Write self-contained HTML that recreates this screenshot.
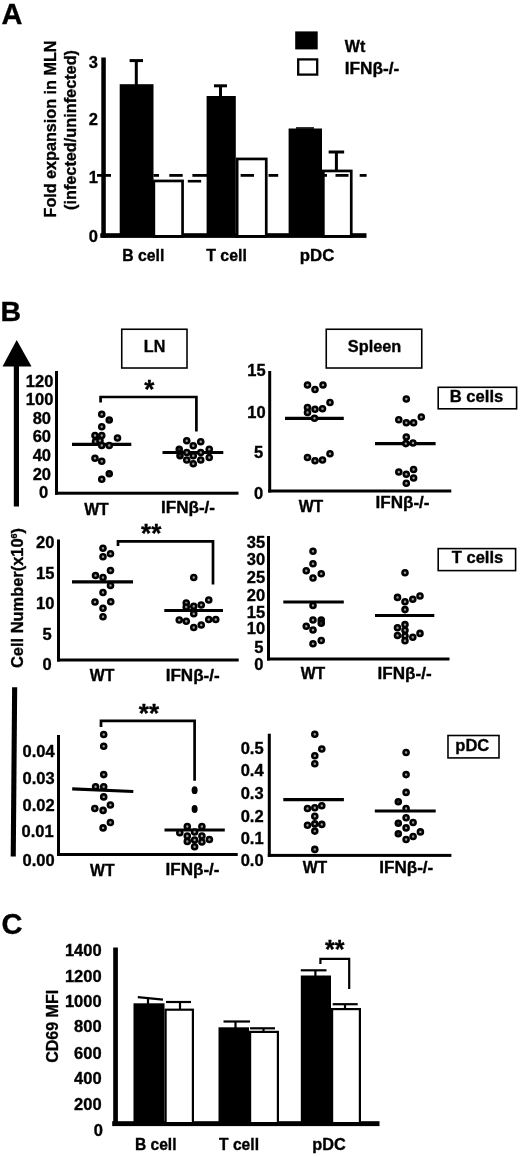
<!DOCTYPE html>
<html lang="en">
<head>
<meta charset="utf-8">
<title>Figure</title>
<style>
html,body{margin:0;padding:0;background:#fff;}
body{width:520px;height:1157px;overflow:hidden;font-family:"Liberation Sans",sans-serif;}
svg{display:block;}
svg text{font-family:"Liberation Sans",sans-serif;fill:#050505;stroke:#050505;stroke-width:0.35px;}
</style>
</head>
<body>
<svg width="520" height="1157" viewBox="0 0 520 1157">
<defs><filter id="soft" x="0" y="0" width="520" height="1157" filterUnits="userSpaceOnUse"><feGaussianBlur stdDeviation="0.35"/></filter></defs>
<rect x="0" y="0" width="520" height="1157" fill="#ffffff"/>
<g filter="url(#soft)">
<text x="1.6" y="24" font-size="29" text-anchor="start" font-weight="bold">A</text>
<text x="55.5" y="129" font-size="16" text-anchor="middle" font-weight="bold" textLength="177" lengthAdjust="spacingAndGlyphs" transform="rotate(-90 55.5 129)">Fold expansion in MLN</text>
<text x="75.8" y="130" font-size="16" text-anchor="middle" font-weight="bold" textLength="160" lengthAdjust="spacingAndGlyphs" transform="rotate(-90 75.8 130)">(infected/uninfected)</text>
<rect x="101.3" y="57.5" width="4.5" height="180" fill="#050505"/>
<rect x="100.3" y="233.2" width="266.2" height="4.7" fill="#050505"/>
<text x="97.9" y="67.8" font-size="16.5" text-anchor="end" font-weight="bold">3</text>
<text x="97.9" y="125.3" font-size="16.5" text-anchor="end" font-weight="bold">2</text>
<text x="97.9" y="183.3" font-size="16.5" text-anchor="end" font-weight="bold">1</text>
<text x="97.9" y="242.4" font-size="16.5" text-anchor="end" font-weight="bold">0</text>
<rect x="119.7" y="84.2" width="33.8" height="150.8" fill="#050505"/>
<line x1="136.3" y1="60.6" x2="136.3" y2="86" stroke="#050505" stroke-width="3.0" stroke-linecap="butt" />
<line x1="129.60000000000002" y1="60.6" x2="143.0" y2="60.6" stroke="#050505" stroke-width="3.0" stroke-linecap="butt" />
<rect x="153.85" y="180.95" width="28.700000000000006" height="55.400000000000006" fill="#fff" stroke="#050505" stroke-width="2.7"/>
<rect x="206.6" y="96" width="29.200000000000017" height="139" fill="#050505"/>
<line x1="220.5" y1="85.8" x2="220.5" y2="97" stroke="#050505" stroke-width="3.0" stroke-linecap="butt" />
<line x1="214.0" y1="85.8" x2="227.0" y2="85.8" stroke="#050505" stroke-width="3.0" stroke-linecap="butt" />
<rect x="237.15" y="158.95" width="29.100000000000012" height="77.4" fill="#fff" stroke="#050505" stroke-width="2.7"/>
<rect x="288.6" y="128.5" width="33.39999999999998" height="106.5" fill="#050505"/>
<line x1="296" y1="128" x2="314" y2="128" stroke="#050505" stroke-width="1.6" stroke-linecap="butt" />
<rect x="323.35" y="170.95" width="27.900000000000023" height="65.4" fill="#fff" stroke="#050505" stroke-width="2.7"/>
<line x1="336.4" y1="152" x2="336.4" y2="171" stroke="#050505" stroke-width="3.0" stroke-linecap="butt" />
<line x1="328.65" y1="152" x2="344.15" y2="152" stroke="#050505" stroke-width="3.0" stroke-linecap="butt" />
<line x1="97" y1="175.4" x2="111" y2="175.4" stroke="#050505" stroke-width="2.8" stroke-linecap="butt" />
<line x1="153.5" y1="175.4" x2="159" y2="175.4" stroke="#050505" stroke-width="2.8" stroke-linecap="butt" />
<line x1="169.3" y1="175.4" x2="182.7" y2="175.4" stroke="#050505" stroke-width="2.8" stroke-linecap="butt" />
<line x1="192.4" y1="175.4" x2="207" y2="175.4" stroke="#050505" stroke-width="2.8" stroke-linecap="butt" />
<line x1="240.6" y1="175.4" x2="254" y2="175.4" stroke="#050505" stroke-width="2.8" stroke-linecap="butt" />
<line x1="268.5" y1="175.4" x2="278.2" y2="175.4" stroke="#050505" stroke-width="2.8" stroke-linecap="butt" />
<line x1="321.4" y1="175.4" x2="327" y2="175.4" stroke="#050505" stroke-width="2.8" stroke-linecap="butt" />
<line x1="335.5" y1="175.4" x2="348.5" y2="175.4" stroke="#050505" stroke-width="2.8" stroke-linecap="butt" />
<line x1="359.7" y1="175.4" x2="366.6" y2="175.4" stroke="#050505" stroke-width="2.8" stroke-linecap="butt" />
<line x1="187.8" y1="181.2" x2="201.2" y2="181.2" stroke="#050505" stroke-width="2.6" stroke-linecap="butt" />
<text x="122.3" y="260.6" font-size="16" text-anchor="start" font-weight="bold" textLength="42" lengthAdjust="spacingAndGlyphs">B cell</text>
<text x="206.3" y="260.6" font-size="16" text-anchor="start" font-weight="bold" textLength="40.5" lengthAdjust="spacingAndGlyphs">T cell</text>
<text x="299.8" y="260.6" font-size="16" text-anchor="start" font-weight="bold" textLength="34.5" lengthAdjust="spacingAndGlyphs">pDC</text>
<rect x="295.2" y="31.4" width="22.5" height="18" fill="#050505"/>
<rect x="298.2" y="59.4" width="19" height="15.2" fill="#fff" stroke="#050505" stroke-width="2.3"/>
<text x="344.8" y="52" font-size="16" text-anchor="start" font-weight="bold" textLength="20.5" lengthAdjust="spacingAndGlyphs">Wt</text>
<text x="344.8" y="74" font-size="16" text-anchor="start" font-weight="bold" textLength="54.5" lengthAdjust="spacingAndGlyphs">IFN&#946;-/-</text>
<text x="0.6" y="321" font-size="28.5" text-anchor="start" font-weight="bold">B</text>
<polygon points="16.7,340 2.5,366.5 31.5,366.5" fill="#050505"/>
<rect x="13.8" y="360" width="5.2" height="146.5" fill="#050505"/>
<polygon points="12.1,687.2 17.2,687.2 15.8,856.4 10.7,856.4" fill="#050505"/>
<text x="23.1" y="668" font-size="16.5" font-weight="bold" transform="rotate(-90 23.1 668)" textLength="140" lengthAdjust="spacingAndGlyphs">Cell Number(x10<tspan font-size="9" dy="-6">6</tspan><tspan dy="6">)</tspan></text>
<rect x="121.75" y="329.25" width="65.25" height="38.75" fill="#fff" stroke="#050505" stroke-width="1.6"/>
<text x="154.6" y="352" font-size="16.5" text-anchor="middle" font-weight="bold" textLength="21.5" lengthAdjust="spacingAndGlyphs">LN</text>
<rect x="326.25" y="329.25" width="95.5" height="38.75" fill="#fff" stroke="#050505" stroke-width="1.6"/>
<text x="374.6" y="352" font-size="17" text-anchor="middle" font-weight="bold" textLength="53.5" lengthAdjust="spacingAndGlyphs">Spleen</text>
<rect x="438.2" y="387.3" width="78.4" height="21.5" fill="#fff" stroke="#050505" stroke-width="1.6"/>
<text x="476.5" y="401.6" font-size="16.5" text-anchor="middle" font-weight="bold" textLength="53.5" lengthAdjust="spacingAndGlyphs">B cells</text>
<rect x="438.2" y="548.6" width="77.4" height="22" fill="#fff" stroke="#050505" stroke-width="1.6"/>
<text x="477.5" y="562.8" font-size="16.5" text-anchor="middle" font-weight="bold" textLength="51.5" lengthAdjust="spacingAndGlyphs">T cells</text>
<rect x="448" y="735.5" width="51" height="22.4" fill="#fff" stroke="#050505" stroke-width="1.6"/>
<text x="472.3" y="750.6" font-size="16.5" text-anchor="middle" font-weight="bold" textLength="34" lengthAdjust="spacingAndGlyphs">pDC</text>
<rect x="55.0" y="371" width="3.0" height="123.69999999999999" fill="#050505"/>
<rect x="55.0" y="491.7" width="183.5" height="3.0" fill="#050505"/>
<text x="53.4" y="386.707" font-size="16.5" text-anchor="end" font-weight="bold">120</text>
<text x="53.4" y="405.30699999999996" font-size="16.5" text-anchor="end" font-weight="bold">100</text>
<text x="51" y="423.907" font-size="16.5" text-anchor="end" font-weight="bold">80</text>
<text x="51" y="442.207" font-size="16.5" text-anchor="end" font-weight="bold">60</text>
<text x="51" y="460.907" font-size="16.5" text-anchor="end" font-weight="bold">40</text>
<text x="51" y="479.60699999999997" font-size="16.5" text-anchor="end" font-weight="bold">20</text>
<text x="48.3" y="498.10699999999997" font-size="16.5" text-anchor="end" font-weight="bold">0</text>
<text x="96.5" y="514.6" font-size="16" text-anchor="middle" font-weight="bold" textLength="24.5" lengthAdjust="spacingAndGlyphs">WT</text>
<text x="188" y="512.8" font-size="16" text-anchor="middle" font-weight="bold" textLength="54" lengthAdjust="spacingAndGlyphs">IFN&#946;-/-</text>
<polyline points="100.6,402.5 100.6,397 196.4,397 196.4,431.5" fill="none" stroke="#050505" stroke-width="2.7" stroke-linejoin="miter"/>
<text x="149.3" y="397.94" font-size="26" text-anchor="middle" font-weight="bold">*</text>
<line x1="72" y1="444.3" x2="131.3" y2="444.3" stroke="#050505" stroke-width="3.2" stroke-linecap="butt" />
<circle cx="101.75" cy="414.25" r="2.5" fill="#989898" stroke="#050505" stroke-width="2.6"/>
<circle cx="109.25" cy="420" r="2.5" fill="#2a2a2a" stroke="#050505" stroke-width="2.6"/>
<circle cx="101.75" cy="426.75" r="2.5" fill="#989898" stroke="#050505" stroke-width="2.6"/>
<circle cx="95" cy="435.5" r="2.5" fill="#989898" stroke="#050505" stroke-width="2.6"/>
<circle cx="101.75" cy="435.5" r="2.5" fill="#989898" stroke="#050505" stroke-width="2.6"/>
<circle cx="117.5" cy="438" r="2.5" fill="#989898" stroke="#050505" stroke-width="2.6"/>
<circle cx="95.5" cy="441.5" r="2.5" fill="#989898" stroke="#050505" stroke-width="2.6"/>
<circle cx="100" cy="440.6" r="2.5" fill="#989898" stroke="#050505" stroke-width="2.6"/>
<circle cx="101.75" cy="445.5" r="2.5" fill="#989898" stroke="#050505" stroke-width="2.6"/>
<circle cx="109.25" cy="445.5" r="2.5" fill="#989898" stroke="#050505" stroke-width="2.6"/>
<circle cx="95" cy="458.25" r="2.5" fill="#989898" stroke="#050505" stroke-width="2.6"/>
<circle cx="101.75" cy="461.25" r="2.5" fill="#989898" stroke="#050505" stroke-width="2.6"/>
<circle cx="109.25" cy="473.75" r="2.5" fill="#2a2a2a" stroke="#050505" stroke-width="2.6"/>
<circle cx="101.75" cy="479.25" r="2.5" fill="#989898" stroke="#050505" stroke-width="2.6"/>
<line x1="162.5" y1="452.5" x2="223.3" y2="452.5" stroke="#050505" stroke-width="3.2" stroke-linecap="butt" />
<circle cx="186.75" cy="440.75" r="2.5" fill="#989898" stroke="#050505" stroke-width="2.6"/>
<circle cx="200.75" cy="441.75" r="2.5" fill="#989898" stroke="#050505" stroke-width="2.6"/>
<circle cx="193.25" cy="445.75" r="2.5" fill="#989898" stroke="#050505" stroke-width="2.6"/>
<circle cx="179.25" cy="449.25" r="2.5" fill="#2a2a2a" stroke="#050505" stroke-width="2.6"/>
<circle cx="209.25" cy="449.25" r="2.5" fill="#989898" stroke="#050505" stroke-width="2.6"/>
<circle cx="186.75" cy="452.5" r="2.5" fill="#989898" stroke="#050505" stroke-width="2.6"/>
<circle cx="200.75" cy="452.5" r="2.5" fill="#989898" stroke="#050505" stroke-width="2.6"/>
<circle cx="180" cy="455.75" r="2.5" fill="#2a2a2a" stroke="#050505" stroke-width="2.6"/>
<circle cx="193.25" cy="455.75" r="2.5" fill="#989898" stroke="#050505" stroke-width="2.6"/>
<circle cx="209.25" cy="457.5" r="2.5" fill="#989898" stroke="#050505" stroke-width="2.6"/>
<circle cx="186.75" cy="460" r="2.5" fill="#989898" stroke="#050505" stroke-width="2.6"/>
<circle cx="200.75" cy="460" r="2.5" fill="#989898" stroke="#050505" stroke-width="2.6"/>
<circle cx="193.25" cy="463.75" r="2.5" fill="#989898" stroke="#050505" stroke-width="2.6"/>
<rect x="268.2" y="371" width="3.0" height="121.5" fill="#050505"/>
<rect x="268.2" y="489.5" width="183.10000000000002" height="3.0" fill="#050505"/>
<text x="265.6" y="375.907" font-size="16.5" text-anchor="end" font-weight="bold">15</text>
<text x="265.6" y="417.707" font-size="16.5" text-anchor="end" font-weight="bold">10</text>
<text x="263.2" y="458.407" font-size="16.5" text-anchor="end" font-weight="bold">5</text>
<text x="263.2" y="498.907" font-size="16.5" text-anchor="end" font-weight="bold">0</text>
<text x="311" y="512" font-size="16" text-anchor="middle" font-weight="bold" textLength="24.5" lengthAdjust="spacingAndGlyphs">WT</text>
<text x="402.5" y="507.6" font-size="16" text-anchor="middle" font-weight="bold" textLength="54" lengthAdjust="spacingAndGlyphs">IFN&#946;-/-</text>
<line x1="285" y1="418.3" x2="343.8" y2="418.3" stroke="#050505" stroke-width="3.2" stroke-linecap="butt" />
<circle cx="307.5" cy="385" r="2.5" fill="#989898" stroke="#050505" stroke-width="2.6"/>
<circle cx="315" cy="389.5" r="2.5" fill="#989898" stroke="#050505" stroke-width="2.6"/>
<circle cx="323" cy="385" r="2.5" fill="#989898" stroke="#050505" stroke-width="2.6"/>
<circle cx="330" cy="402.5" r="2.5" fill="#989898" stroke="#050505" stroke-width="2.6"/>
<circle cx="307.5" cy="407.5" r="2.5" fill="#989898" stroke="#050505" stroke-width="2.6"/>
<circle cx="315" cy="409.25" r="2.5" fill="#989898" stroke="#050505" stroke-width="2.6"/>
<circle cx="322.5" cy="408.75" r="2.5" fill="#989898" stroke="#050505" stroke-width="2.6"/>
<circle cx="307.5" cy="412.5" r="2.5" fill="#989898" stroke="#050505" stroke-width="2.6"/>
<circle cx="314.5" cy="418.25" r="2.5" fill="#989898" stroke="#050505" stroke-width="2.6"/>
<circle cx="307.5" cy="457.5" r="2.5" fill="#989898" stroke="#050505" stroke-width="2.6"/>
<circle cx="315" cy="460.75" r="2.5" fill="#989898" stroke="#050505" stroke-width="2.6"/>
<circle cx="322.5" cy="460" r="2.5" fill="#989898" stroke="#050505" stroke-width="2.6"/>
<circle cx="330" cy="453.75" r="2.5" fill="#989898" stroke="#050505" stroke-width="2.6"/>
<line x1="375" y1="443.6" x2="435.6" y2="443.6" stroke="#050505" stroke-width="3.2" stroke-linecap="butt" />
<circle cx="406.3" cy="399" r="2.5" fill="#989898" stroke="#050505" stroke-width="2.6"/>
<circle cx="398.8" cy="419.7" r="2.5" fill="#989898" stroke="#050505" stroke-width="2.6"/>
<circle cx="406.3" cy="422.8" r="2.5" fill="#989898" stroke="#050505" stroke-width="2.6"/>
<circle cx="413.6" cy="422.8" r="2.5" fill="#989898" stroke="#050505" stroke-width="2.6"/>
<circle cx="421.3" cy="417" r="2.5" fill="#989898" stroke="#050505" stroke-width="2.6"/>
<circle cx="406.3" cy="437" r="2.5" fill="#989898" stroke="#050505" stroke-width="2.6"/>
<circle cx="405.8" cy="443.6" r="2.5" fill="#989898" stroke="#050505" stroke-width="2.6"/>
<circle cx="413" cy="443" r="2.5" fill="#989898" stroke="#050505" stroke-width="2.6"/>
<circle cx="398.8" cy="472" r="2.5" fill="#989898" stroke="#050505" stroke-width="2.6"/>
<circle cx="406.3" cy="474.2" r="2.5" fill="#989898" stroke="#050505" stroke-width="2.6"/>
<circle cx="413.6" cy="469.5" r="2.5" fill="#989898" stroke="#050505" stroke-width="2.6"/>
<circle cx="413.6" cy="478" r="2.5" fill="#989898" stroke="#050505" stroke-width="2.6"/>
<circle cx="406.3" cy="483.3" r="2.5" fill="#989898" stroke="#050505" stroke-width="2.6"/>
<rect x="57.0" y="539.5" width="3.0" height="122.0" fill="#050505"/>
<rect x="57.0" y="658.5" width="181.7" height="3.0" fill="#050505"/>
<text x="54.4" y="548.1070000000001" font-size="16.5" text-anchor="end" font-weight="bold">20</text>
<text x="54.4" y="578.707" font-size="16.5" text-anchor="end" font-weight="bold">15</text>
<text x="54.4" y="609.1070000000001" font-size="16.5" text-anchor="end" font-weight="bold">10</text>
<text x="51.7" y="639.907" font-size="16.5" text-anchor="end" font-weight="bold">5</text>
<text x="51.7" y="670.1070000000001" font-size="16.5" text-anchor="end" font-weight="bold">0</text>
<text x="102.1" y="681.3" font-size="16" text-anchor="middle" font-weight="bold" textLength="24.5" lengthAdjust="spacingAndGlyphs">WT</text>
<text x="192.7" y="681.3" font-size="16" text-anchor="middle" font-weight="bold" textLength="54" lengthAdjust="spacingAndGlyphs">IFN&#946;-/-</text>
<polyline points="118,546 118,541.3 213,541.3 213,584.5" fill="none" stroke="#050505" stroke-width="2.7" stroke-linejoin="miter"/>
<text x="151.2" y="541.54" font-size="26" text-anchor="middle" font-weight="bold">**</text>
<line x1="72" y1="581.8" x2="133" y2="581.8" stroke="#050505" stroke-width="3.2" stroke-linecap="butt" />
<circle cx="103" cy="548.25" r="2.5" fill="#989898" stroke="#050505" stroke-width="2.6"/>
<circle cx="110.5" cy="553.75" r="2.5" fill="#989898" stroke="#050505" stroke-width="2.6"/>
<circle cx="103" cy="556.75" r="2.5" fill="#989898" stroke="#050505" stroke-width="2.6"/>
<circle cx="110.5" cy="570.5" r="2.5" fill="#989898" stroke="#050505" stroke-width="2.6"/>
<circle cx="95.5" cy="575.5" r="2.5" fill="#989898" stroke="#050505" stroke-width="2.6"/>
<circle cx="103" cy="577.5" r="2.5" fill="#989898" stroke="#050505" stroke-width="2.6"/>
<circle cx="110.5" cy="585.5" r="2.5" fill="#989898" stroke="#050505" stroke-width="2.6"/>
<circle cx="103" cy="592.5" r="2.5" fill="#989898" stroke="#050505" stroke-width="2.6"/>
<circle cx="95" cy="602" r="2.5" fill="#989898" stroke="#050505" stroke-width="2.6"/>
<circle cx="110.75" cy="601.75" r="2.5" fill="#989898" stroke="#050505" stroke-width="2.6"/>
<circle cx="103" cy="608.25" r="2.5" fill="#989898" stroke="#050505" stroke-width="2.6"/>
<circle cx="103" cy="616.75" r="2.5" fill="#989898" stroke="#050505" stroke-width="2.6"/>
<line x1="164.3" y1="610.5" x2="223" y2="610.5" stroke="#050505" stroke-width="3.2" stroke-linecap="butt" />
<circle cx="193.75" cy="577.5" r="2.5" fill="#989898" stroke="#050505" stroke-width="2.6"/>
<circle cx="208.75" cy="600" r="2.5" fill="#989898" stroke="#050505" stroke-width="2.6"/>
<circle cx="186.25" cy="603" r="2.5" fill="#989898" stroke="#050505" stroke-width="2.6"/>
<circle cx="201.25" cy="605" r="2.5" fill="#989898" stroke="#050505" stroke-width="2.6"/>
<circle cx="186.25" cy="607" r="2.5" fill="#989898" stroke="#050505" stroke-width="2.6"/>
<circle cx="193.75" cy="606.25" r="2.5" fill="#989898" stroke="#050505" stroke-width="2.6"/>
<circle cx="193.75" cy="613.75" r="2.5" fill="#989898" stroke="#050505" stroke-width="2.6"/>
<circle cx="179.25" cy="620" r="2.5" fill="#989898" stroke="#050505" stroke-width="2.6"/>
<circle cx="186.25" cy="621.25" r="2.5" fill="#989898" stroke="#050505" stroke-width="2.6"/>
<circle cx="208.75" cy="619.5" r="2.5" fill="#989898" stroke="#050505" stroke-width="2.6"/>
<circle cx="215.75" cy="619.5" r="2.5" fill="#989898" stroke="#050505" stroke-width="2.6"/>
<circle cx="201.25" cy="625" r="2.5" fill="#989898" stroke="#050505" stroke-width="2.6"/>
<circle cx="193.75" cy="627.5" r="2.5" fill="#989898" stroke="#050505" stroke-width="2.6"/>
<rect x="267.0" y="536" width="3.0" height="124.5" fill="#050505"/>
<rect x="267.0" y="657.5" width="182.5" height="3.0" fill="#050505"/>
<text x="265.2" y="548.1070000000001" font-size="16.5" text-anchor="end" font-weight="bold">35</text>
<text x="265.2" y="564.907" font-size="16.5" text-anchor="end" font-weight="bold">30</text>
<text x="265.2" y="582.5070000000001" font-size="16.5" text-anchor="end" font-weight="bold">25</text>
<text x="265.2" y="600.6070000000001" font-size="16.5" text-anchor="end" font-weight="bold">20</text>
<text x="265.2" y="618.1070000000001" font-size="16.5" text-anchor="end" font-weight="bold">15</text>
<text x="265.2" y="634.407" font-size="16.5" text-anchor="end" font-weight="bold">10</text>
<text x="263.4" y="653.207" font-size="16.5" text-anchor="end" font-weight="bold">5</text>
<text x="263.4" y="670.1070000000001" font-size="16.5" text-anchor="end" font-weight="bold">0</text>
<text x="312.9" y="679" font-size="16" text-anchor="middle" font-weight="bold" textLength="24.5" lengthAdjust="spacingAndGlyphs">WT</text>
<text x="404.6" y="679.2" font-size="16" text-anchor="middle" font-weight="bold" textLength="54" lengthAdjust="spacingAndGlyphs">IFN&#946;-/-</text>
<line x1="283.3" y1="602" x2="343.8" y2="602" stroke="#050505" stroke-width="3.2" stroke-linecap="butt" />
<circle cx="313" cy="551.25" r="2.5" fill="#989898" stroke="#050505" stroke-width="2.6"/>
<circle cx="313" cy="563.75" r="2.5" fill="#989898" stroke="#050505" stroke-width="2.6"/>
<circle cx="306.25" cy="570.75" r="2.5" fill="#989898" stroke="#050505" stroke-width="2.6"/>
<circle cx="321.25" cy="573.75" r="2.5" fill="#989898" stroke="#050505" stroke-width="2.6"/>
<circle cx="313" cy="578" r="2.5" fill="#989898" stroke="#050505" stroke-width="2.6"/>
<circle cx="313" cy="605.5" r="2.5" fill="#989898" stroke="#050505" stroke-width="2.6"/>
<circle cx="313" cy="620" r="2.5" fill="#989898" stroke="#050505" stroke-width="2.6"/>
<circle cx="321.25" cy="620" r="2.5" fill="#2a2a2a" stroke="#050505" stroke-width="2.6"/>
<circle cx="321.25" cy="623.25" r="2.5" fill="#2a2a2a" stroke="#050505" stroke-width="2.6"/>
<circle cx="306.25" cy="626.25" r="2.5" fill="#989898" stroke="#050505" stroke-width="2.6"/>
<circle cx="313" cy="630" r="2.5" fill="#989898" stroke="#050505" stroke-width="2.6"/>
<circle cx="321.25" cy="640.5" r="2.5" fill="#989898" stroke="#050505" stroke-width="2.6"/>
<circle cx="313" cy="643.75" r="2.5" fill="#989898" stroke="#050505" stroke-width="2.6"/>
<line x1="375" y1="615.5" x2="434.3" y2="615.5" stroke="#050505" stroke-width="3.2" stroke-linecap="butt" />
<circle cx="405" cy="572.7" r="2.5" fill="#989898" stroke="#050505" stroke-width="2.6"/>
<circle cx="397.5" cy="597.4" r="2.5" fill="#989898" stroke="#050505" stroke-width="2.6"/>
<circle cx="405" cy="601.8" r="2.5" fill="#989898" stroke="#050505" stroke-width="2.6"/>
<circle cx="412.8" cy="599.2" r="2.5" fill="#989898" stroke="#050505" stroke-width="2.6"/>
<circle cx="420" cy="596" r="2.5" fill="#989898" stroke="#050505" stroke-width="2.6"/>
<circle cx="405" cy="609.6" r="2.5" fill="#989898" stroke="#050505" stroke-width="2.6"/>
<circle cx="405" cy="624.6" r="2.5" fill="#989898" stroke="#050505" stroke-width="2.6"/>
<circle cx="397.5" cy="627.7" r="2.5" fill="#989898" stroke="#050505" stroke-width="2.6"/>
<circle cx="405" cy="630.3" r="2.5" fill="#989898" stroke="#050505" stroke-width="2.6"/>
<circle cx="397.5" cy="635.5" r="2.5" fill="#989898" stroke="#050505" stroke-width="2.6"/>
<circle cx="405" cy="636" r="2.5" fill="#989898" stroke="#050505" stroke-width="2.6"/>
<circle cx="412.8" cy="637.3" r="2.5" fill="#989898" stroke="#050505" stroke-width="2.6"/>
<circle cx="420" cy="633.4" r="2.5" fill="#989898" stroke="#050505" stroke-width="2.6"/>
<circle cx="405" cy="640.7" r="2.5" fill="#989898" stroke="#050505" stroke-width="2.6"/>
<rect x="57.0" y="735" width="3.0" height="121.0" fill="#050505"/>
<rect x="57.0" y="853.0" width="180.7" height="3.0" fill="#050505"/>
<text x="54.6" y="756.5070000000001" font-size="16.5" text-anchor="end" font-weight="bold">0.04</text>
<text x="54.6" y="784.1070000000001" font-size="16.5" text-anchor="end" font-weight="bold">0.03</text>
<text x="54.6" y="811.0070000000001" font-size="16.5" text-anchor="end" font-weight="bold">0.02</text>
<text x="53.6" y="837.207" font-size="16.5" text-anchor="end" font-weight="bold">0.01</text>
<text x="54.6" y="865.5070000000001" font-size="16.5" text-anchor="end" font-weight="bold">0.00</text>
<text x="102.3" y="876.4" font-size="16" text-anchor="middle" font-weight="bold" textLength="24.5" lengthAdjust="spacingAndGlyphs">WT</text>
<text x="192.5" y="874.5" font-size="16" text-anchor="middle" font-weight="bold" textLength="54" lengthAdjust="spacingAndGlyphs">IFN&#946;-/-</text>
<polyline points="101,727 101,720.8 194.6,720.8 194.6,780.8" fill="none" stroke="#050505" stroke-width="2.7" stroke-linejoin="miter"/>
<text x="148.9" y="722.14" font-size="26" text-anchor="middle" font-weight="bold">**</text>
<line x1="72.2" y1="788.9" x2="133.3" y2="791.5" stroke="#050505" stroke-width="3.2" stroke-linecap="butt" />
<circle cx="103.7" cy="734.5" r="2.5" fill="#989898" stroke="#050505" stroke-width="2.6"/>
<circle cx="103.7" cy="746.3" r="2.5" fill="#989898" stroke="#050505" stroke-width="2.6"/>
<circle cx="103.7" cy="774.6" r="2.5" fill="#989898" stroke="#050505" stroke-width="2.6"/>
<circle cx="95.6" cy="786.7" r="2.5" fill="#989898" stroke="#050505" stroke-width="2.6"/>
<circle cx="103.7" cy="786.7" r="2.5" fill="#989898" stroke="#050505" stroke-width="2.6"/>
<circle cx="103.7" cy="796.9" r="2.5" fill="#989898" stroke="#050505" stroke-width="2.6"/>
<circle cx="110.4" cy="805" r="2.5" fill="#989898" stroke="#050505" stroke-width="2.6"/>
<circle cx="94.8" cy="808.5" r="2.5" fill="#989898" stroke="#050505" stroke-width="2.6"/>
<circle cx="103.1" cy="810.4" r="2.5" fill="#989898" stroke="#050505" stroke-width="2.6"/>
<circle cx="110.4" cy="822.5" r="2.5" fill="#989898" stroke="#050505" stroke-width="2.6"/>
<circle cx="103.1" cy="827.9" r="2.5" fill="#989898" stroke="#050505" stroke-width="2.6"/>
<line x1="164.5" y1="830" x2="224.8" y2="830" stroke="#050505" stroke-width="3.2" stroke-linecap="butt" />
<ellipse cx="194.6" cy="790.2" rx="3.0" ry="3.9" fill="#050505"/>
<ellipse cx="194.6" cy="809" rx="3.0" ry="3.9" fill="#050505"/>
<circle cx="187.3" cy="826.5" r="2.5" fill="#989898" stroke="#050505" stroke-width="2.6"/>
<circle cx="201.9" cy="826.5" r="2.5" fill="#989898" stroke="#050505" stroke-width="2.6"/>
<circle cx="179.8" cy="832.7" r="2.5" fill="#989898" stroke="#050505" stroke-width="2.6"/>
<circle cx="194.6" cy="832" r="2.5" fill="#989898" stroke="#050505" stroke-width="2.6"/>
<circle cx="187.3" cy="836" r="2.5" fill="#989898" stroke="#050505" stroke-width="2.6"/>
<circle cx="201.9" cy="836" r="2.5" fill="#989898" stroke="#050505" stroke-width="2.6"/>
<circle cx="209.4" cy="839.5" r="2.5" fill="#989898" stroke="#050505" stroke-width="2.6"/>
<circle cx="187.3" cy="841.4" r="2.5" fill="#989898" stroke="#050505" stroke-width="2.6"/>
<circle cx="194.6" cy="840" r="2.5" fill="#989898" stroke="#050505" stroke-width="2.6"/>
<circle cx="201.9" cy="842" r="2.5" fill="#989898" stroke="#050505" stroke-width="2.6"/>
<circle cx="194.6" cy="846.7" r="2.5" fill="#989898" stroke="#050505" stroke-width="2.6"/>
<rect x="267.8" y="733.7" width="3.0" height="123.19999999999993" fill="#050505"/>
<rect x="267.8" y="853.9" width="183.59999999999997" height="3.0" fill="#050505"/>
<text x="263.6" y="753.5070000000001" font-size="16.5" text-anchor="end" font-weight="bold">0.5</text>
<text x="263.6" y="775.907" font-size="16.5" text-anchor="end" font-weight="bold">0.4</text>
<text x="263.6" y="799.407" font-size="16.5" text-anchor="end" font-weight="bold">0.3</text>
<text x="263.6" y="821.707" font-size="16.5" text-anchor="end" font-weight="bold">0.2</text>
<text x="263.6" y="843.907" font-size="16.5" text-anchor="end" font-weight="bold">0.1</text>
<text x="263.6" y="866.207" font-size="16.5" text-anchor="end" font-weight="bold">0.0</text>
<text x="315" y="872.9" font-size="16" text-anchor="middle" font-weight="bold" textLength="24.5" lengthAdjust="spacingAndGlyphs">WT</text>
<text x="406.3" y="872.7" font-size="16" text-anchor="middle" font-weight="bold" textLength="54" lengthAdjust="spacingAndGlyphs">IFN&#946;-/-</text>
<line x1="283.3" y1="799.6" x2="343.9" y2="799.6" stroke="#050505" stroke-width="3.2" stroke-linecap="butt" />
<circle cx="314.8" cy="734.2" r="2.5" fill="#989898" stroke="#050505" stroke-width="2.6"/>
<circle cx="321.8" cy="749" r="2.5" fill="#989898" stroke="#050505" stroke-width="2.6"/>
<circle cx="314.8" cy="755.7" r="2.5" fill="#989898" stroke="#050505" stroke-width="2.6"/>
<circle cx="314.8" cy="763.8" r="2.5" fill="#989898" stroke="#050505" stroke-width="2.6"/>
<circle cx="321.8" cy="805.8" r="2.5" fill="#989898" stroke="#050505" stroke-width="2.6"/>
<circle cx="307.5" cy="808.5" r="2.5" fill="#989898" stroke="#050505" stroke-width="2.6"/>
<circle cx="314.8" cy="807.7" r="2.5" fill="#989898" stroke="#050505" stroke-width="2.6"/>
<circle cx="314.8" cy="816.3" r="2.5" fill="#989898" stroke="#050505" stroke-width="2.6"/>
<circle cx="307.5" cy="825.2" r="2.5" fill="#989898" stroke="#050505" stroke-width="2.6"/>
<circle cx="314.8" cy="823.9" r="2.5" fill="#989898" stroke="#050505" stroke-width="2.6"/>
<circle cx="321.8" cy="824.4" r="2.5" fill="#989898" stroke="#050505" stroke-width="2.6"/>
<circle cx="314.8" cy="831.1" r="2.5" fill="#989898" stroke="#050505" stroke-width="2.6"/>
<circle cx="314.8" cy="849.4" r="2.5" fill="#989898" stroke="#050505" stroke-width="2.6"/>
<line x1="374.8" y1="811" x2="435.7" y2="811" stroke="#050505" stroke-width="3.2" stroke-linecap="butt" />
<circle cx="406.1" cy="752.5" r="2.5" fill="#989898" stroke="#050505" stroke-width="2.6"/>
<circle cx="406.1" cy="774.6" r="2.5" fill="#989898" stroke="#050505" stroke-width="2.6"/>
<circle cx="406.1" cy="792.4" r="2.5" fill="#989898" stroke="#050505" stroke-width="2.6"/>
<circle cx="398.3" cy="801.8" r="2.5" fill="#2a2a2a" stroke="#050505" stroke-width="2.6"/>
<circle cx="406.1" cy="808.5" r="2.5" fill="#989898" stroke="#050505" stroke-width="2.6"/>
<circle cx="406.1" cy="817.7" r="2.5" fill="#989898" stroke="#050505" stroke-width="2.6"/>
<circle cx="398.3" cy="823.3" r="2.5" fill="#2a2a2a" stroke="#050505" stroke-width="2.6"/>
<circle cx="413.1" cy="822.5" r="2.5" fill="#989898" stroke="#050505" stroke-width="2.6"/>
<circle cx="406.1" cy="827.9" r="2.5" fill="#989898" stroke="#050505" stroke-width="2.6"/>
<circle cx="398.3" cy="833.8" r="2.5" fill="#2a2a2a" stroke="#050505" stroke-width="2.6"/>
<circle cx="420.4" cy="831.9" r="2.5" fill="#989898" stroke="#050505" stroke-width="2.6"/>
<circle cx="413.1" cy="836.5" r="2.5" fill="#989898" stroke="#050505" stroke-width="2.6"/>
<circle cx="406.1" cy="839.5" r="2.5" fill="#989898" stroke="#050505" stroke-width="2.6"/>
<text x="1.6" y="934.3" font-size="29" text-anchor="start" font-weight="bold">C</text>
<text x="58" y="1026.3" font-size="16.5" text-anchor="middle" font-weight="bold" textLength="73" lengthAdjust="spacingAndGlyphs" transform="rotate(-90 58 1026.3)">CD69 MFI</text>
<rect x="113.2" y="947.5" width="4.7" height="178" fill="#050505"/>
<rect x="112.2" y="1121.2" width="267.3" height="4.9" fill="#050505"/>
<text x="101.6" y="955.5" font-size="16.5" text-anchor="end" font-weight="bold">1400</text>
<text x="101.6" y="981.5" font-size="16.5" text-anchor="end" font-weight="bold">1200</text>
<text x="101.6" y="1007.1999999999999" font-size="16.5" text-anchor="end" font-weight="bold">1000</text>
<text x="101.6" y="1032.2" font-size="16.5" text-anchor="end" font-weight="bold">800</text>
<text x="101.6" y="1059.2" font-size="16.5" text-anchor="end" font-weight="bold">600</text>
<text x="101.6" y="1084.4" font-size="16.5" text-anchor="end" font-weight="bold">400</text>
<text x="101.6" y="1109.9" font-size="16.5" text-anchor="end" font-weight="bold">200</text>
<text x="103" y="1135.9" font-size="16.5" text-anchor="end" font-weight="bold">0</text>
<rect x="133.5" y="1003.3" width="31.0" height="118.70000000000005" fill="#050505"/>
<line x1="148" y1="998.4000000000001" x2="148" y2="1004" stroke="#050505" stroke-width="2.2" stroke-linecap="butt" />
<line x1="137.8" y1="997.2" x2="163" y2="999.6" stroke="#050505" stroke-width="2.2" stroke-linecap="butt" />
<rect x="165.6" y="1009.7" width="27.3" height="113.39999999999998" fill="#fff" stroke="#050505" stroke-width="2.2"/>
<line x1="180" y1="1002.0" x2="180" y2="1009" stroke="#050505" stroke-width="2.2" stroke-linecap="butt" />
<line x1="166" y1="1002" x2="191" y2="1002" stroke="#050505" stroke-width="2.2" stroke-linecap="butt" />
<rect x="218.5" y="1027.3" width="30.5" height="94.70000000000005" fill="#050505"/>
<line x1="235.5" y1="1021.5" x2="235.5" y2="1028" stroke="#050505" stroke-width="2.2" stroke-linecap="butt" />
<line x1="223.5" y1="1021.5" x2="250" y2="1021.5" stroke="#050505" stroke-width="2.2" stroke-linecap="butt" />
<rect x="250.1" y="1031.8999999999999" width="27.8" height="91.20000000000005" fill="#fff" stroke="#050505" stroke-width="2.2"/>
<line x1="263.5" y1="1028.3" x2="263.5" y2="1031" stroke="#050505" stroke-width="2.2" stroke-linecap="butt" />
<line x1="250" y1="1028.3" x2="275" y2="1028.3" stroke="#050505" stroke-width="2.2" stroke-linecap="butt" />
<rect x="300.8" y="975.5" width="30.19999999999999" height="146.5" fill="#050505"/>
<line x1="315.4" y1="970.3" x2="315.4" y2="977" stroke="#050505" stroke-width="2.2" stroke-linecap="butt" />
<line x1="300.8" y1="970.3" x2="326.5" y2="970.3" stroke="#050505" stroke-width="2.2" stroke-linecap="butt" />
<rect x="332.1" y="1009.1" width="27.8" height="114" fill="#fff" stroke="#050505" stroke-width="2.2"/>
<line x1="345" y1="1004.2" x2="345" y2="1009" stroke="#050505" stroke-width="2.2" stroke-linecap="butt" />
<line x1="332.7" y1="1004.2" x2="357.7" y2="1004.2" stroke="#050505" stroke-width="2.2" stroke-linecap="butt" />
<polyline points="320.4,964 320.4,958.8 349.2,958.8 349.2,989" fill="none" stroke="#050505" stroke-width="2.2" stroke-linejoin="miter"/>
<text x="334.8" y="958.05" font-size="25" text-anchor="middle" font-weight="bold">**</text>
<text x="135" y="1150.3" font-size="16" text-anchor="start" font-weight="bold" textLength="41.5" lengthAdjust="spacingAndGlyphs">B cell</text>
<text x="219" y="1150.3" font-size="16" text-anchor="start" font-weight="bold" textLength="40" lengthAdjust="spacingAndGlyphs">T cell</text>
<text x="312.3" y="1150.3" font-size="16" text-anchor="start" font-weight="bold" textLength="33.5" lengthAdjust="spacingAndGlyphs">pDC</text>
</g>
</svg>
</body>
</html>
